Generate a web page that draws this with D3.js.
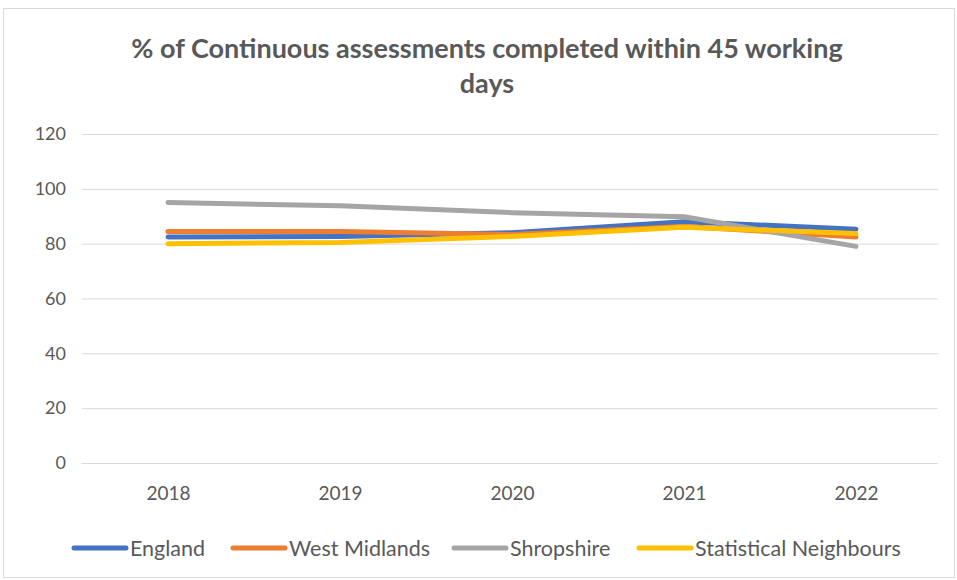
<!DOCTYPE html>
<html>
<head>
<meta charset="utf-8">
<script src="https://cdn.jsdelivr.net/npm/d3@7"></script>
<style>
  body { margin: 0; background: #fff; }
  svg { display: block; }
</style>
</head>
<body>
<div id="chart"></div>
<script>
// data
var years = ["2018", "2019", "2020", "2021", "2022"];
var england = [82.4, 82.6, 84.0, 88.0, 85.3];
var westMidlands = [84.4, 84.4, 83.3, 86.3, 82.4];
var shropshire = [95.0, 93.8, 91.3, 89.8, 79.0];
var statNeighbours = [80.0, 80.4, 82.6, 86.0, 83.7];
var yTicks = [0, 20, 40, 60, 80, 100, 120];
var titleLines = ["% of Continuous assessments completed within 45 working", "days"];

var series = [
  {name: "England", values: england, color: "#4472c4"},
  {name: "West Midlands", values: westMidlands, color: "#ed7d31"},
  {name: "Shropshire", values: shropshire, color: "#a5a5a5"},
  {name: "Statistical Neighbours", values: statNeighbours, color: "#ffc000"}
];

var W = 957, H = 580;
var font = "Lato, 'Open Sans', sans-serif";

var svg = d3.select("#chart")
  .append("svg")
    .attr("width", W)
    .attr("height", H);

// chart border
svg.append("rect")
  .attr("x", 3.5).attr("y", 8.5)
  .attr("width", W - 6).attr("height", H - 11)
  .attr("fill", "#fff")
  .attr("stroke", "#d9d9d9");

// title
svg.append("g").selectAll("text")
  .data(titleLines)
  .enter()
  .append("text")
    .attr("x", 487)
    .attr("y", function(d, i) { return 58 + i * 35; })
    .attr("text-anchor", "middle")
    .style("font", "bold 27px " + font)
    .style("fill", "#595959")
    .text(function(d) { return d; });

var x = d3.scalePoint()
  .domain(years)
  .range([82, 942])
  .padding(0.5);

var y = d3.scaleLinear()
  .domain([0, 120])
  .range([463, 134]);

// horizontal grid
var grid = svg.append("g")
  .attr("transform", "translate(82,0)")
  .call(d3.axisLeft(y).tickValues(yTicks).tickSize(-856).tickFormat(""));
grid.select(".domain").remove();
grid.selectAll("line").style("stroke", "#d9d9d9").style("stroke-width", 1);

// y labels
var yAxis = svg.append("g")
  .attr("transform", "translate(66,0)")
  .call(d3.axisLeft(y).tickValues(yTicks).tickSize(0).tickPadding(0));
yAxis.select(".domain").remove();
yAxis.selectAll("text")
  .style("font", "18px " + font)
  .style("fill", "#595959");

// x labels
var xAxis = svg.append("g")
  .attr("transform", "translate(0,463)")
  .call(d3.axisBottom(x).tickSize(0).tickPadding(24));
xAxis.select(".domain").remove();
xAxis.selectAll("text")
  .style("font", "19px " + font)
  .style("fill", "#595959");

// lines
var line = d3.line()
  .x(function(d, i) { return x(years[i]); })
  .y(function(d) { return y(d); });

svg.append("g").selectAll("path")
  .data(series)
  .enter()
  .append("path")
    .attr("fill", "none")
    .attr("stroke", function(d) { return d.color; })
    .attr("stroke-width", 5)
    .attr("stroke-linecap", "round")
    .attr("stroke-linejoin", "round")
    .attr("d", function(d) { return line(d.values); });

// legend
var legendX = [72, 231, 452, 637];
var legend = svg.append("g").selectAll("g")
  .data(series)
  .enter()
  .append("g")
    .attr("transform", function(d, i) { return "translate(" + legendX[i] + ",548)"; });

legend.append("line")
  .attr("x1", 2).attr("x2", 54)
  .attr("stroke", function(d) { return d.color; })
  .attr("stroke-width", 5)
  .attr("stroke-linecap", "round");

legend.append("text")
  .attr("x", 58)
  .attr("dy", "0.35em")
  .style("font", "21.5px " + font)
  .style("fill", "#595959")
  .text(function(d) { return d.name; });
</script>
</body>
</html>
